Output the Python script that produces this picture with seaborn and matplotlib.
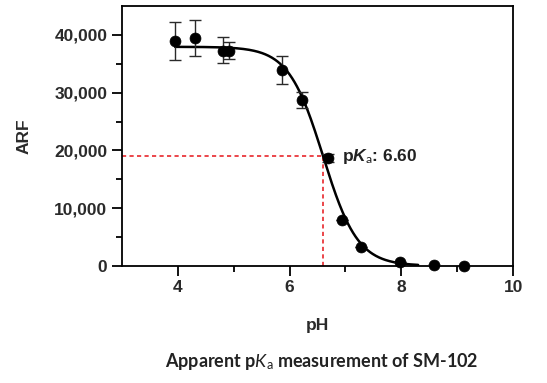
import numpy as np
import pandas as pd
import matplotlib
matplotlib.use("Agg")
import matplotlib.pyplot as plt
import seaborn as sns

# ---- data ----
ph = [3.95, 4.31, 4.80, 4.92, 5.865, 6.23, 6.69, 6.94, 7.27, 7.97, 8.58, 9.12]
arf = [38900, 39500, 37300, 37150, 33850, 28770, 18650, 7930, 3300, 700, 100, 0]
err_low = [3300, 3200, 2200, 1350, 2350, 1340, 700, 0, 0, 0, 0, 0]
err_high = [3300, 3150, 2300, 1550, 2440, 1270, 700, 0, 0, 0, 0, 0]

# fitted sigmoid parameters
fit_top = 37950
fit_bottom = 0
pka = 6.60
hill = 1.40
fit_start, fit_end = 3.95, 8.30

x_ticks = [4, 6, 8, 10]
y_ticks = [0, 10000, 20000, 30000, 40000]
y_tick_labels = ["0", "10,000", "20,000", "30,000", "40,000"]

sns.set_theme(style="ticks")
plt.rcParams["font.family"] = ["Liberation Sans", "DejaVu Sans"]
plt.rcParams["mathtext.fontset"] = "custom"
plt.rcParams["mathtext.bf"] = "Liberation Sans:bold:italic"
plt.rcParams["mathtext.it"] = "Lato:italic"
plt.rcParams["mathtext.rm"] = "Lato"

fig = plt.figure(figsize=(5.47, 3.83), dpi=100)
ax = fig.add_axes([0.223, 0.306, 0.715, 0.678])

# fitted curve
xs = np.linspace(fit_start, fit_end, 300)
ys = fit_bottom + (fit_top - fit_bottom) / (1 + 10 ** ((xs - pka) * hill))
curve = pd.DataFrame({"pH": xs, "ARF": ys})
sns.lineplot(data=curve, x="pH", y="ARF", color="black", lw=1.8, ax=ax, zorder=3)

# pKa guide lines
y_pka = fit_bottom + (fit_top - fit_bottom) / 2
ax.plot([3, pka], [y_pka, y_pka], color="#e8262b", lw=1.2, ls=(0, (2.5, 2)), zorder=2)
ax.plot([pka, pka], [0, y_pka], color="#e8262b", lw=1.2, ls=(0, (2.5, 2)), zorder=2)

# error bars + points
ax.errorbar(ph, arf, yerr=[err_low, err_high], fmt="none", ecolor="#2a2a2a",
            elinewidth=1.0, capsize=4, capthick=1.0, zorder=4)
df = pd.DataFrame({"pH": ph, "ARF": arf})
sns.scatterplot(data=df, x="pH", y="ARF", color="black", s=62, edgecolor="black",
                linewidth=0.5, ax=ax, zorder=5, clip_on=False)

ax.text(6.93, y_pka, r"p$\mathbf{K}_{\mathrm{a}}$: 6.60", fontsize=12.5,
        fontweight="bold", color="#222222", va="center", ha="left")

ax.set_xlim(3, 10)
ax.set_ylim(0, 45000)
ax.set_xticks(x_ticks)
ax.set_xticks([5, 7, 9], minor=True)
ax.set_yticks(y_ticks)
ax.set_yticklabels(y_tick_labels)
ax.set_yticks([5000, 15000, 25000, 35000], minor=True)

for s in ax.spines.values():
    s.set_linewidth(1.3)
    s.set_color("black")
ax.tick_params(which="major", length=7, width=1.3, color="black", labelsize=12.5,
               labelcolor="#2a2a2a")
ax.tick_params(which="minor", length=4, width=1.3, color="black")
for lab in ax.get_xticklabels() + ax.get_yticklabels():
    lab.set_fontweight("bold")

ax.set_xlabel("pH", fontsize=12.5, fontweight="bold", color="#2a2a2a", labelpad=16)
ax.set_ylabel("ARF", fontsize=12.5, fontweight="bold", color="#2a2a2a", labelpad=16)

fig.text(0.589, 0.055, r"Apparent p$\mathit{K}_{\mathrm{a}}$ measurement of SM-102",
         ha="center", va="center", fontsize=13, family="Lato", fontweight="bold",
         color="#222222")

fig.savefig("out.png", dpi=100)
